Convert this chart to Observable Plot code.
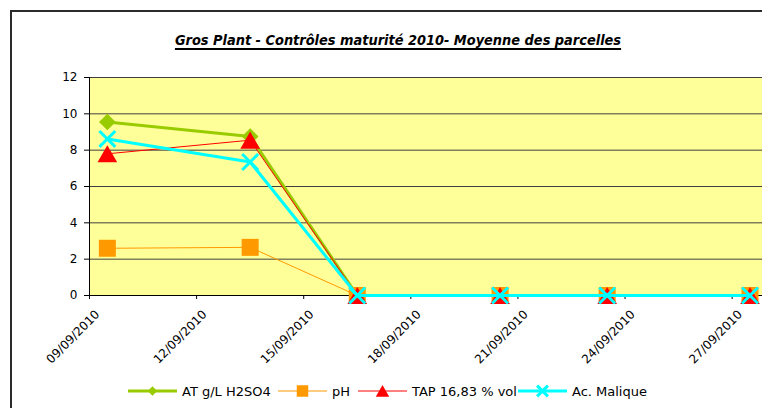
<!DOCTYPE html>
<html><head><meta charset="utf-8">
<script src="https://cdn.jsdelivr.net/npm/d3@7"></script>
<script src="https://cdn.jsdelivr.net/npm/@observablehq/plot@0.6"></script>
<style>
html,body{margin:0;padding:0;background:#fff}
body{width:762px;height:408px;overflow:hidden;position:relative;font-family:"DejaVu Sans",sans-serif;color:#000}
#frame{position:absolute;left:10px;top:10px;width:820px;height:520px;border:2px solid #2b2b2b;box-sizing:border-box}
#title{position:absolute;left:398px;top:32px;transform:translateX(-50%);white-space:nowrap;font-family:"DejaVu Sans Condensed","DejaVu Sans",sans-serif;font-weight:bold;font-style:italic;font-size:14.4px;text-decoration:underline;text-decoration-thickness:2px;text-underline-offset:3px}
#chart{position:absolute;left:0;top:60px}
#legend{position:absolute;left:0;top:378px}
</style>
</head><body>
<div id="frame"></div>
<div id="title">Gros Plant - Contrôles maturité 2010- Moyenne des parcelles</div>
<div id="chart"></div>
<div id="legend"></div>
<script>
// ---- data ----
const dates = ["2010-09-09","2010-09-13","2010-09-16","2010-09-20","2010-09-23","2010-09-27"];
const atValues = [9.55, 8.75, 0, 0, 0, 0];
const phValues = [2.6, 2.65, 0, 0, 0, 0];
const tapValues = [7.8, 8.55, 0, 0, 0, 0];
const maliqueValues = [8.62, 7.35, 0, 0, 0, 0];
const seriesNames = ["AT g/L H2SO4", "pH", "TAP 16,83 % vol", "Ac. Malique"];
const tickDates = ["2010-09-09","2010-09-12","2010-09-15","2010-09-18","2010-09-21","2010-09-24","2010-09-27"];
const yTicks = [0, 2, 4, 6, 8, 10, 12];

const seriesValues = [atValues, phValues, tapValues, maliqueValues];
const styles = [
  {color:"#99CC00", width:3, symbol:"diamond2", r:7.5, fill:"#99CC00", stroke:"none", sw:0, dy:0, lr:4.2},
  {color:"#FF9900", width:1, symbol:"square", r:9.6, fill:"#FF9900", stroke:"none", sw:0, dy:0, lr:6.5},
  {color:"#FF0000", width:1, symbol:"triangle", r:7.3, fill:"#FF0000", stroke:"none", sw:0, dy:2.8, lr:5},
  {color:"#00FFFF", width:3, symbol:"times", r:7.3, fill:"none", stroke:"#00FFFF", sw:3, dy:0, lr:5}
];
const HALF_DAY = 12 * 3600 * 1000;
const parse = s => new Date(s + "T00:00:00Z");
const rows = seriesNames.map((name, i) => dates.map((d, j) => ({series: name, x: new Date(parse(d).getTime() + HALF_DAY), y: seriesValues[i][j]})));

const xStart = parse(dates[0]);
const xEnd = new Date(xStart.getTime() + 18.85 * 864e5);

const marks = [
  Plot.frame({fill:"#FFFF99", stroke:null}),
  Plot.ruleY(yTicks.filter(v => v > 0), {stroke:"#404040", strokeWidth:1}),
  Plot.ruleY([0], {stroke:"#000"}),
  Plot.ruleX([xStart], {stroke:"#000"}),
  Plot.axisY({ticks: yTicks, tickSize: 5, tickPadding: 7, tickFormat: d => d, fontSize: 12, label: null}),
  Plot.axisX({ticks: tickDates.map(parse), tickSize: 4, tickPadding: 0, tickFormat: () => "", label: null}),
  Plot.axisX({ticks: tickDates.map(parse), tickSize: 0, tickRotate: -45, tickPadding: 4, tickFormat: d3.utcFormat("%d/%m/%Y"), fontSize: 12, dx: 8, dy: 13, label: null})
];
rows.forEach((data, i) => {
  const s = styles[i];
  marks.push(Plot.line(data, {x:"x", y:"y", stroke:s.color, strokeWidth:s.width, strokeLinejoin:"round"}));
  marks.push(Plot.dot(data, {x:"x", y:"y", symbol:s.symbol, r:s.r, fill:s.fill, stroke:s.stroke, strokeWidth:s.sw, dy:s.dy}));
});

const chart = Plot.plot({
  width: 762, height: 318,
  marginLeft: 89, marginRight: 0, marginTop: 17, marginBottom: 83,
  x: {type:"utc", domain:[xStart, xEnd], label: null},
  y: {domain:[0, 12], label: null},
  style: {fontFamily:"DejaVu Sans", fontSize:"12px", background:"transparent", color:"#000", overflow:"visible"},
  marks
});
document.getElementById("chart").appendChild(chart);

// ---- legend ----
const legendPos = [128, 278, 358, 518];
const svg = d3.select("#legend").append("svg").attr("width", 762).attr("height", 28)
  .style("font-family", "DejaVu Sans").style("font-size", "13px");
const cy = 13;
seriesNames.forEach((name, i) => {
  const s = styles[i];
  const x0 = legendPos[i];
  svg.append("line").attr("x1", x0).attr("x2", x0 + 49).attr("y1", cy).attr("y2", cy)
    .attr("stroke", s.color).attr("stroke-width", s.width);
  const symType = {diamond2: d3.symbolDiamond2, square: d3.symbolSquare, triangle: d3.symbolTriangle, times: d3.symbolTimes}[s.symbol];
  svg.append("path").attr("d", d3.symbol(symType, Math.PI * s.lr * s.lr)())
    .attr("transform", `translate(${x0 + 24.5},${cy + (s.symbol === "triangle" ? 1.8 : 0)})`)
    .attr("fill", s.fill).attr("stroke", s.stroke).attr("stroke-width", s.sw);
  svg.append("text").attr("x", x0 + 54).attr("y", cy + 5).text(name);
});
</script>
</body></html>
